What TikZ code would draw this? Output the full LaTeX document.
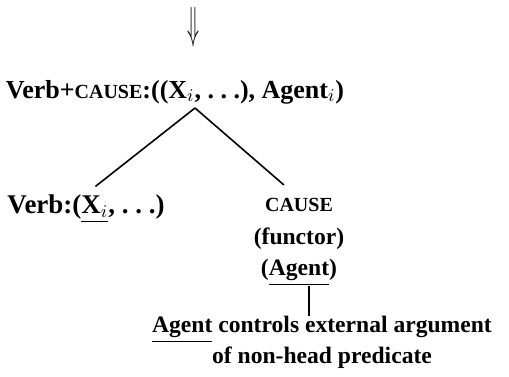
\documentclass[tikz,border=0pt]{standalone}
\usepackage{amsmath,amssymb}
\usepackage{fontspec}
\setmainfont{Liberation Serif}
\usepackage{graphicx}
\usepackage{tikz}
\usetikzlibrary{positioning}

\newcommand{\smcap}[1]{{\fontsize{10}{11}\selectfont #1}}
\newcommand{\dotsx}{.\ .\ .}

\begin{document}
\begin{tikzpicture}[x=0.5pt, y=-0.5pt,
textnode/.style={inner sep=0pt, font=\fontsize{13}{15}\selectfont\bfseries},
stacknode/.style={inner sep=0pt, align=center, font=\fontsize{11.8}{14.5}\selectfont\bfseries},
]
\useasboundingbox (0,0) rectangle (509,376);

%Nodes
\node[inner sep=0pt] at (193,27) (IMPL) {\resizebox*{6pt}{20pt}{$\Downarrow$}};
\node[textnode, anchor=base] at (175,98) (VC) {Verb+\smcap{CAUSE}:((X$_i$, \dotsx), Agent$_i$)};
\coordinate (APEX) at (195,108);
\node[textnode, anchor=base, font=\fontsize{13.5}{15}\selectfont\bfseries] at (86,213) (V) {Verb:(\underline{X$_i$}, \dotsx)};
\node[stacknode, anchor=north] at (299,198) (CAUSE) {\smcap{CAUSE}\\[2pt](functor)\\[1pt](\underline{Agent})};
\node[stacknode, anchor=north] at (322,316) (AC) {\underline{Agent} controls external argument\\[1pt]of non-head predicate};

%Lines
\draw [thick, shorten >=6pt] (APEX) -- (V.north);
\draw [thick, shorten >=10pt] (APEX) -- (CAUSE.north);
\draw [thick] (CAUSE.south) ++(10,0) coordinate (BARTOP) -- (BARTOP |- AC.north);

\end{tikzpicture}
\end{document}
